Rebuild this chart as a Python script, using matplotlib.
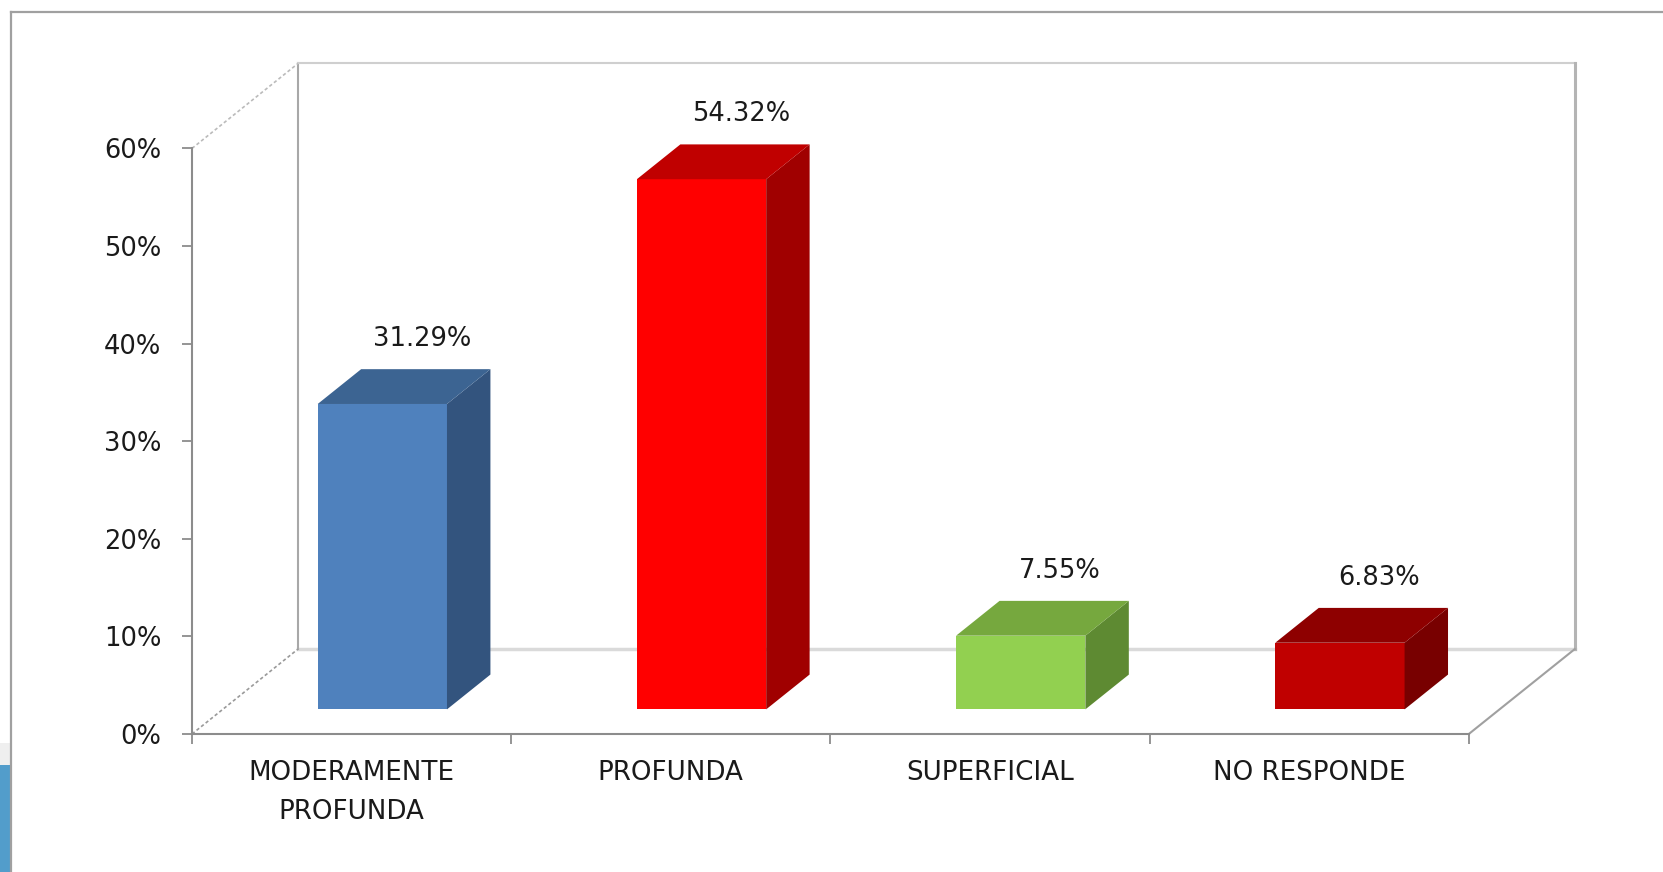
import matplotlib
matplotlib.use("Agg")
import matplotlib.pyplot as plt
import numpy as np
from matplotlib.patches import Polygon, Rectangle
from matplotlib.lines import Line2D

#%% datos
categorias = ["MODERAMENTE\nPROFUNDA", "PROFUNDA", "SUPERFICIAL", "NO RESPONDE"]
porcentajes = [31.29, 54.32, 7.55, 6.83]
etiquetas = ["31.29%", "54.32%", "7.55%", "6.83%"]
y_ticks = [0, 10, 20, 30, 40, 50, 60]

color_frente = ["#4F81BD", "#FF0000", "#92D050", "#C00000"]
color_arriba = ["#3C6492", "#C00000", "#76A83E", "#8E0000"]
color_lado = ["#33547E", "#A00000", "#5E8A32", "#780000"]

#%% geometria del falso 3D (profundidad en unidades de datos)
DX = 0.332     # desplazamiento en categorias
DY = 8.7       # desplazamiento en %
f0, f1 = 0.29, 0.70   # posicion de la barra en la profundidad
ancho = 0.405
n = len(categorias)

fig = plt.figure(figsize=(16.63, 8.72), dpi=100)
ax = fig.add_axes([0, 0, 1, 1])
ax.set_xlim(-192 / 319.2, (1663 - 192) / 319.2)
ax.set_ylim(-(872 - 734) / 9.76, 734 / 9.76)
ax.patch.set_alpha(0)

# marco exterior y detalles del borde
fig.add_artist(Line2D([10.5 / 1663, 10.5 / 1663], [0, 1 - 12.5 / 872], color="#A0A0A0", lw=1.6))
fig.add_artist(Line2D([10.5 / 1663, 1], [1 - 12.5 / 872, 1 - 12.5 / 872], color="#A0A0A0", lw=1.6))
fig.add_artist(Rectangle((0, (872 - 765) / 872), 9.5 / 1663, 22 / 872, transform=fig.transFigure,
                         color="#EFEFEF", lw=0))
fig.add_artist(Rectangle((0, 0), 9.5 / 1663, (872 - 765) / 872, transform=fig.transFigure,
                         color="#529DCB", lw=0))

#%% paredes
ymax = y_ticks[-1]
ax.plot([DX, n + DX], [DY, DY], color="#DADADA", lw=2.5, zorder=1)          # fondo del piso
ax.plot([DX, DX], [DY, ymax + DY], color="#A8A8A8", lw=1.5, zorder=1)       # pared izq
ax.plot([DX, n + DX], [ymax + DY, ymax + DY], color="#CFCFCF", lw=1.5, zorder=1)
ax.plot([n + DX, n + DX], [DY, ymax + DY], color="#B4B4B4", lw=2.2, zorder=1)
ax.plot([0, DX], [ymax, ymax + DY], color="#BBBBBB", lw=1.2, ls=(0, (2, 1.5)), zorder=1)
ax.plot([0, DX], [0, DY], color="#9A9A9A", lw=1.2, ls=(0, (2, 1.5)), zorder=1)
ax.plot([n, n + DX], [0, DY], color="#A0A0A0", lw=1.5, zorder=1)

#%% barras
x = np.arange(n) + 0.5 - ancho / 2
ax.bar(x + f0 * DX, porcentajes, width=ancho, bottom=f0 * DY, align="edge",
       color=color_frente, lw=0, zorder=3)
prof = f1 - f0
for i, v in enumerate(porcentajes):
    xl = x[i] + f0 * DX
    xr = xl + ancho
    yb = f0 * DY
    yt = yb + v
    lado = Polygon([(xr, yb), (xr, yt), (xr + prof * DX, yt + prof * DY),
                    (xr + prof * DX, yb + prof * DY)], closed=True,
                   facecolor=color_lado[i], lw=0, zorder=3)
    tapa = Polygon([(xl, yt), (xr, yt), (xr + prof * DX, yt + prof * DY),
                    (xl + prof * DX, yt + prof * DY)], closed=True,
                   facecolor=color_arriba[i], lw=0, zorder=3)
    ax.add_patch(lado)
    ax.add_patch(tapa)
    ax.text(i + 0.72, v + f1 * DY + 3.1, etiquetas[i], ha="center", va="center",
            fontsize=18.5, color="#1A1A1A", zorder=4)

#%% ejes frontales
for s in ["top", "right"]:
    ax.spines[s].set_visible(False)
ax.spines["left"].set_position(("data", 0))
ax.spines["bottom"].set_position(("data", 0))
ax.spines["left"].set_bounds(0, ymax)
ax.spines["bottom"].set_bounds(0, n)
ax.spines["left"].set_color("#8C8C8C")
ax.spines["bottom"].set_color("#8C8C8C")
ax.spines["left"].set_linewidth(1.5)
ax.spines["bottom"].set_linewidth(1.5)

ax.set_yticks(y_ticks)
ax.set_yticklabels(["{}%".format(t) for t in y_ticks], fontsize=18.5, color="#1A1A1A")
ax.tick_params(axis="y", direction="out", length=7, width=1.3, color="#8C8C8C", pad=15)

ax.set_xticks(np.arange(n + 1))
ax.set_xticklabels([])
ax.tick_params(axis="x", which="major", direction="out", length=7, width=1.3, color="#8C8C8C")
ax.set_xticks(np.arange(n) + 0.5, minor=True)
ax.set_xticklabels(categorias, minor=True, fontsize=18.8, color="#1A1A1A", linespacing=1.62)
ax.tick_params(axis="x", which="minor", length=0, pad=19)

fig.savefig("out.png", dpi=100)
